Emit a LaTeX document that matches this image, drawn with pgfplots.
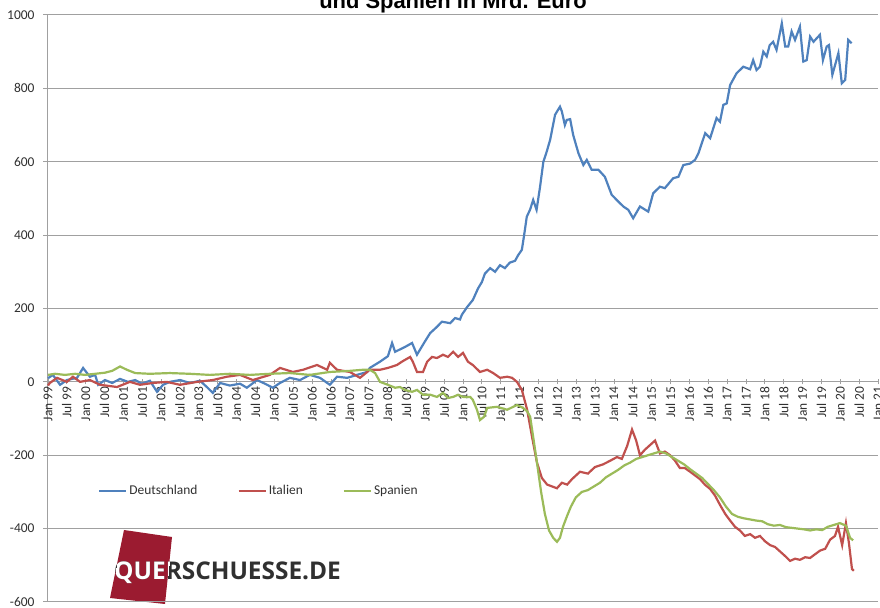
\documentclass[border=0pt]{standalone}
\usepackage{pgfplots}
\pgfplotsset{compat=1.18}
\usepackage{fontspec}
\setmainfont{Carlito}
\newfontfamily\titlefont{Liberation Sans}
\newfontfamily\logofont{Open Sans}
\definecolor{de}{HTML}{4F81BD}
\definecolor{it}{HTML}{C0504D}
\definecolor{es}{HTML}{9BBB59}
\definecolor{gridc}{HTML}{A0A0A0}
\definecolor{logored}{HTML}{9B1B30}
\definecolor{txt}{HTML}{303030}
\begin{document}
\begin{tikzpicture}[x=1bp,y=1bp]
\useasboundingbox (-48,-6) rectangle (832,602);
% logo
\fill[logored] (76,72) -- (124,65) -- (117,-2) -- (62,4) -- cycle;
\node[anchor=base west, inner sep=0, text=txt, font=\logofont\bfseries\fontsize{24.5}{25}\selectfont] at (66,22) {QUERSCHUESSE.DE};
\begin{scope}
\clip (76,72) -- (124,65) -- (117,-2) -- (62,4) -- cycle;
\node[anchor=base west, inner sep=0, text=white, font=\logofont\bfseries\fontsize{24.5}{25}\selectfont] at (66,22) {QUERSCHUESSE.DE};
\end{scope}
\begin{axis}[
  at={(0,0)}, anchor=south west,
  scale only axis, width=830bp, height=587bp,
  xmin=1999, xmax=2021, ymin=-600, ymax=1000,
  axis x line*=middle, axis y line*=left,
  hide obscured x ticks=false, hide obscured y ticks=false,
  axis line style={gridc, line width=1bp},
  ytick={-600,-400,-200,0,200,400,600,800,1000},
  ymajorgrids, grid style={gridc, line width=1bp},
  ytick style={gridc, line width=1bp},
  xtick style={gridc, line width=0.8bp},
  major tick length=5bp,
  xtick align=center, ytick align=outside,
  xtick={1999,1999.5,...,2021},
  xticklabels={Jan 99,Jul 99,Jan 00,Jul 00,Jan 01,Jul 01,Jan 02,Jul 02,Jan 03,Jul 03,Jan 04,Jul 04,Jan 05,Jul 05,Jan 06,Jul 06,Jan 07,Jul 07,Jan 08,Jul 08,Jan 09,Jul 09,Jan 10,Jul 10,Jan 11,Jul 11,Jan 12,Jul 12,Jan 13,Jul 13,Jan 14,Jul 14,Jan 15,Jul 15,Jan 16,Jul 16,Jan 17,Jul 17,Jan 18,Jul 18,Jan 19,Jul 19,Jan 20,Jul 20,Jan 21},
  xticklabel style={rotate=90, anchor=east, text=txt, font=\fontsize{13.5}{14}\selectfont, inner sep=2bp},
  yticklabel style={text=txt, font=\fontsize{13.5}{14}\selectfont, xshift=-5bp},
  /pgf/number format/assume math mode=true,
  scaled y ticks=false,
  yticklabel={\pgfmathprintnumber[fixed,precision=0,1000 sep={}]{\tick}},
  clip=false,
  legend columns=3,
  legend style={at={(0.0566,0.189)}, anchor=west, draw=none, fill=none,
    font=\fontsize{13.5}{14}\selectfont, text=txt,
    /tikz/every even column/.append style={column sep=38bp}},
  legend image code/.code={\draw[#1] (0bp,0bp) -- (27bp,0bp);},
]
\addplot[de, line width=2.2bp] coordinates {
(1999.00,10) (1999.13,19) (1999.32,-8) (1999.50,5) (1999.77,11) (1999.93,38) (2000.11,14) (2000.25,19) (2000.33,-8) (2000.51,5) (2000.70,-3) (2000.91,8) (2001.12,0) (2001.31,5) (2001.49,-5) (2001.70,3) (2001.89,-27) (2002.05,-8) (2002.23,0) (2002.50,5) (2002.76,-3) (2003.03,3) (2003.21,-14) (2003.37,-30) (2003.56,-3) (2003.82,-10) (2004.09,-5) (2004.27,-16) (2004.54,5) (2004.75,-5) (2004.96,-16) (2005.15,-3) (2005.41,11) (2005.68,5) (2005.94,19) (2006.21,11) (2006.47,-8) (2006.66,14) (2006.93,11) (2007.19,19) (2007.46,27) (2007.53,38) (2007.80,55) (2008.01,70) (2008.12,106) (2008.20,82) (2008.46,95) (2008.65,106) (2008.78,74) (2008.99,110) (2009.13,133) (2009.31,150) (2009.44,164) (2009.66,160) (2009.79,174) (2009.92,170) (2009.97,183) (2010.11,204) (2010.26,223) (2010.40,255) (2010.50,272) (2010.58,295) (2010.72,310) (2010.85,300) (2010.98,318) (2011.11,310) (2011.24,325) (2011.38,330) (2011.46,345) (2011.56,360) (2011.62,400) (2011.69,450) (2011.78,470) (2011.86,496) (2011.95,469) (2012.04,530) (2012.13,600) (2012.22,628) (2012.31,660) (2012.44,728) (2012.57,750) (2012.62,737) (2012.70,700) (2012.75,714) (2012.84,716) (2012.92,673) (2013.06,623) (2013.19,591) (2013.28,605) (2013.41,578) (2013.59,578) (2013.76,559) (2013.94,510) (2014.12,491) (2014.25,478) (2014.38,469) (2014.51,446) (2014.69,478) (2014.91,464) (2015.04,514) (2015.22,532) (2015.35,528) (2015.57,555) (2015.71,559) (2015.84,591) (2016.02,595) (2016.15,605) (2016.24,623) (2016.42,678) (2016.55,664) (2016.72,719) (2016.81,709) (2016.90,755) (2016.99,759) (2017.08,809) (2017.25,841) (2017.43,859) (2017.61,852) (2017.69,877) (2017.78,850) (2017.87,859) (2017.96,900) (2018.05,887) (2018.13,918) (2018.22,927) (2018.31,905) (2018.45,977) (2018.54,914) (2018.62,914) (2018.71,955) (2018.80,932) (2018.93,968) (2019.02,873) (2019.11,877) (2019.20,941) (2019.29,927) (2019.46,946) (2019.54,877) (2019.64,914) (2019.70,918) (2019.79,837) (2019.95,896) (2020.04,814) (2020.13,823) (2020.21,932) (2020.30,923)
};
\addlegendentry{Deutschland}
\addplot[it, line width=2.2bp] coordinates {
(1999.00,-10) (1999.05,-3) (1999.24,11) (1999.50,0) (1999.66,14) (1999.85,0) (2000.11,5) (2000.38,-8) (2000.83,-14) (2001.17,0) (2001.44,-8) (2001.78,-3) (2002.15,0) (2002.50,-8) (2002.95,0) (2003.37,5) (2003.74,14) (2004.09,19) (2004.43,5) (2004.88,19) (2005.15,38) (2005.49,27) (2005.76,33) (2006.13,46) (2006.40,33) (2006.47,52) (2006.66,33) (2007.00,27) (2007.27,11) (2007.53,33) (2007.80,33) (2008.01,38) (2008.25,46) (2008.38,55) (2008.60,68) (2008.67,55) (2008.78,27) (2008.94,27) (2009.05,55) (2009.18,68) (2009.31,65) (2009.47,74) (2009.60,68) (2009.74,82) (2009.87,68) (2010.00,79) (2010.13,55) (2010.26,46) (2010.45,27) (2010.64,33) (2010.80,24) (2010.98,11) (2011.17,14) (2011.30,11) (2011.43,0) (2011.56,-22) (2011.70,-76) (2011.83,-150) (2011.96,-220) (2012.09,-262) (2012.23,-280) (2012.36,-285) (2012.49,-290) (2012.62,-275) (2012.76,-280) (2012.89,-265) (2013.10,-245) (2013.31,-250) (2013.50,-232) (2013.71,-225) (2013.90,-215) (2014.08,-205) (2014.21,-210) (2014.35,-175) (2014.48,-130) (2014.59,-160) (2014.69,-200) (2014.82,-185) (2014.96,-172) (2015.09,-160) (2015.22,-195) (2015.35,-190) (2015.49,-200) (2015.62,-215) (2015.75,-235) (2015.88,-235) (2016.02,-245) (2016.15,-255) (2016.28,-265) (2016.41,-280) (2016.55,-292) (2016.68,-310) (2016.81,-335) (2016.95,-360) (2017.08,-378) (2017.21,-395) (2017.34,-405) (2017.47,-420) (2017.61,-415) (2017.74,-425) (2017.87,-420) (2018.01,-435) (2018.14,-445) (2018.27,-450) (2018.40,-462) (2018.54,-475) (2018.67,-488) (2018.80,-482) (2018.93,-485) (2019.07,-478) (2019.20,-480) (2019.33,-470) (2019.46,-460) (2019.60,-455) (2019.73,-430) (2019.86,-420) (2019.94,-395) (2020.05,-445) (2020.15,-385) (2020.23,-440) (2020.31,-510) (2020.36,-515)
};
\addlegendentry{Italien}
\addplot[es, line width=2.2bp] coordinates {
(1999.00,19) (1999.19,22) (1999.45,19) (1999.72,22) (1999.98,19) (2000.25,22) (2000.51,25) (2000.70,30) (2000.91,42) (2001.09,33) (2001.31,24) (2001.70,22) (2002.23,24) (2002.76,22) (2003.29,19) (2003.82,22) (2004.35,19) (2004.88,22) (2005.41,24) (2005.94,19) (2006.47,27) (2007.00,30) (2007.35,33) (2007.53,33) (2007.67,24) (2007.80,0) (2008.01,-8) (2008.20,-16) (2008.33,-14) (2008.46,-22) (2008.65,-27) (2008.78,-22) (2008.94,-35) (2009.13,-35) (2009.31,-41) (2009.47,-30) (2009.60,-44) (2009.74,-41) (2009.87,-35) (2010.00,-41) (2010.19,-41) (2010.26,-49) (2010.37,-76) (2010.45,-104) (2010.56,-95) (2010.64,-71) (2010.90,-68) (2011.17,-76) (2011.43,-63) (2011.59,-71) (2011.70,-80) (2011.78,-95) (2011.86,-150) (2011.96,-220) (2012.07,-300) (2012.17,-360) (2012.28,-405) (2012.39,-425) (2012.49,-436) (2012.57,-425) (2012.65,-395) (2012.76,-365) (2012.86,-340) (2012.99,-315) (2013.15,-300) (2013.31,-295) (2013.47,-285) (2013.63,-275) (2013.79,-260) (2013.95,-250) (2014.11,-240) (2014.27,-228) (2014.43,-220) (2014.59,-210) (2014.75,-205) (2014.90,-200) (2015.06,-195) (2015.22,-190) (2015.38,-195) (2015.54,-205) (2015.70,-215) (2015.86,-225) (2016.02,-238) (2016.18,-250) (2016.34,-262) (2016.49,-278) (2016.65,-295) (2016.81,-315) (2016.97,-340) (2017.13,-360) (2017.29,-368) (2017.45,-372) (2017.61,-375) (2017.77,-378) (2017.93,-380) (2018.08,-388) (2018.24,-392) (2018.40,-390) (2018.56,-396) (2018.72,-398) (2018.88,-400) (2019.04,-402) (2019.20,-405) (2019.36,-402) (2019.52,-404) (2019.67,-395) (2019.83,-390) (2019.99,-385) (2020.15,-392) (2020.26,-425) (2020.34,-432)
};
\addlegendentry{Spanien}
\end{axis}
\node[anchor=base, inner sep=0, font=\titlefont\bfseries\fontsize{22}{22}\selectfont] at (405,593) {und Spanien in Mrd. Euro};
\end{tikzpicture}
\end{document}
